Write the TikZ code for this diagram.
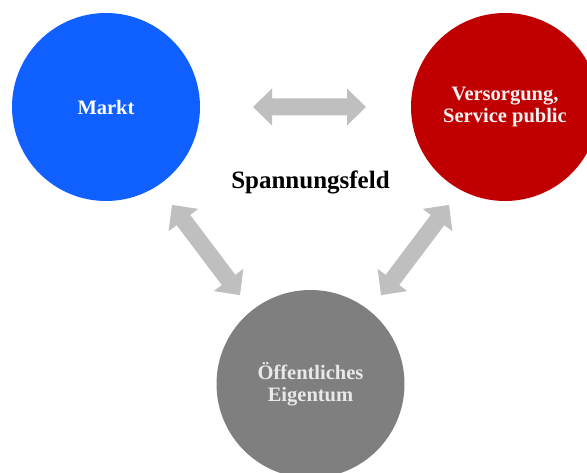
\documentclass[tikz,border=0pt]{standalone}
\usepackage{fontspec}
\setmainfont{Liberation Serif}
\definecolor{marktblue}{HTML}{1060FF}
\definecolor{vsred}{HTML}{C00000}
\definecolor{oegray}{HTML}{7F7F7F}
\definecolor{arrowgray}{HTML}{BFBFBF}
\definecolor{oetext}{HTML}{E8E8E8}
\tikzset{
  bubble/.style={circle, minimum size=188pt, inner sep=0pt, align=center,
    font=\fontsize{20.5}{22.5}\selectfont\bfseries},
  dblarrow/.pic={\fill[arrowgray] (-56.5,0) -- (-37.5,18.5) -- (-37.5,8.5) -- (37.5,8.5)
     -- (37.5,18.5) -- (56.5,0) -- (37.5,-18.5) -- (37.5,-8.5) -- (-37.5,-8.5)
     -- (-37.5,-18.5) -- cycle;}
}
\begin{document}
\begin{tikzpicture}[x=1pt,y=-1pt]
\useasboundingbox (0,0) rectangle (587,473);
\clip (0,0) rectangle (587,473);
\node[bubble, fill=marktblue, text=white] (markt) at (106,107) {Markt};
\node[bubble, fill=vsred, text=white!95!black] (vs) at (505,107) {Versorgung,\\Service public};
\node[bubble, fill=oegray, text=oetext] (oe) at (310.5,384) {Öffentliches\\Eigentum};
\node[font=\fontsize{25}{27}\selectfont\bfseries] (feld) at (310.5,182) {Spannungsfeld};
\pic (a1) at (309.5,107) {dblarrow};
\pic[rotate=-53] (a2) at (206,250) {dblarrow};
\pic[rotate=53] (a3) at (415,250) {dblarrow};
\end{tikzpicture}
\end{document}
